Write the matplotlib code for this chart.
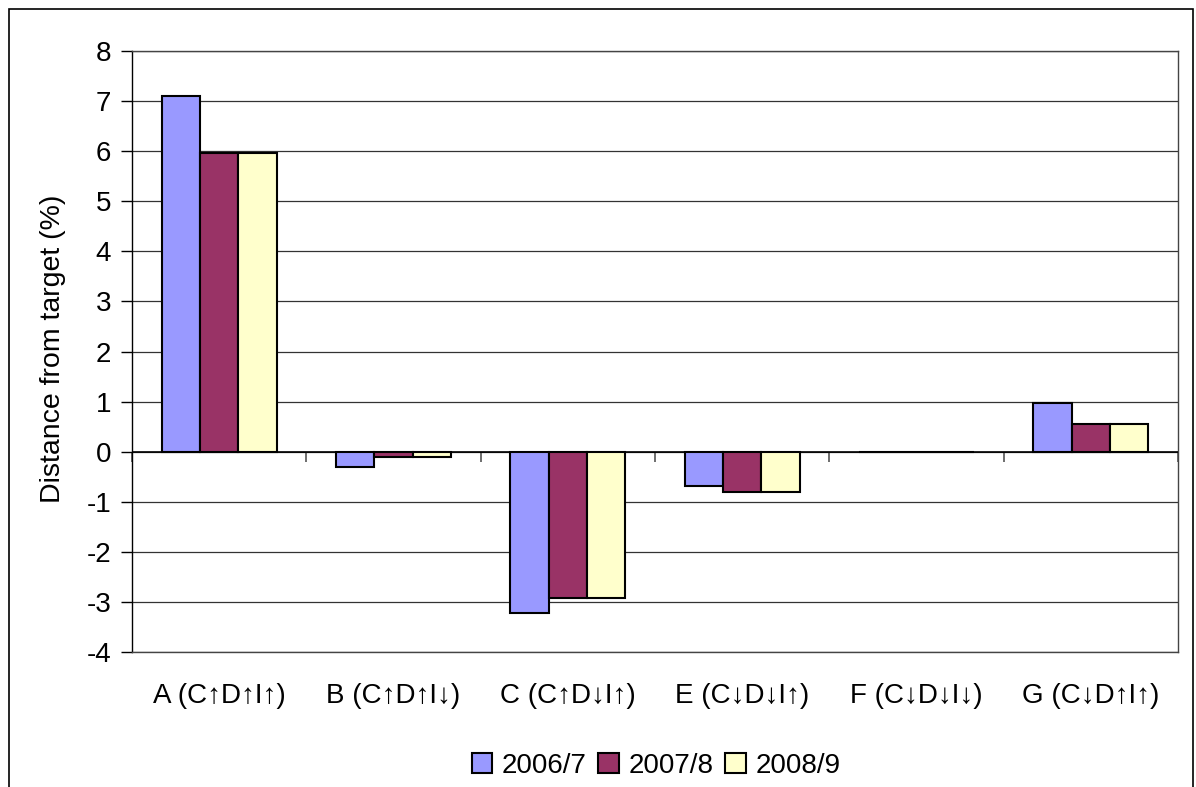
import matplotlib
matplotlib.use("Agg")
import matplotlib.pyplot as plt
import numpy as np
from matplotlib.patches import Rectangle

categories = ["A (C↑D↑I↑)", "B (C↑D↑I↓)", "C (C↑D↓I↑)", "E (C↓D↓I↑)", "F (C↓D↓I↓)", "G (C↓D↑I↑)"]
series_names = ["2006/7", "2007/8", "2008/9"]
v2006 = [7.1, -0.3, -3.22, -0.69, 0.0, 0.98]
v2007 = [5.97, -0.1, -2.92, -0.81, 0.0, 0.55]
v2008 = [5.97, -0.1, -2.92, -0.81, 0.0, 0.55]
colors = ["#9999FF", "#993366", "#FFFFCC"]

plt.rcParams['font.family'] = ['Liberation Sans', 'DejaVu Sans']
plt.rcParams['axes.unicode_minus'] = False

fig = plt.figure(figsize=(11.96, 7.87), dpi=100)
ax = fig.add_axes([132/1196, 1-652/787, (1178-132)/1196, (652-51)/787])

x = np.arange(len(categories))
w = 0.22
for i, (vals, name, c) in enumerate(zip([v2006, v2007, v2008], series_names, colors)):
    ax.bar(x + (i-1)*w, vals, w, color=c, edgecolor='black', linewidth=1.5, label=name, zorder=3)

ax.set_xlim(-0.5, len(categories)-0.5)
ax.set_ylim(-4, 8)
ax.set_yticks(range(-4, 9))
ax.yaxis.grid(True, color='#333333', linewidth=0.9, zorder=0)
ax.axhline(0, color='black', linewidth=1.2, zorder=4)
ax.tick_params(axis='y', labelsize=20, length=8, width=1, direction='out', pad=7)
ax.set_xticks(x)
ax.set_xticklabels(categories, fontsize=20)
ax.tick_params(axis='x', length=0, pad=22)
for s in ax.spines.values():
    s.set_color('#444444')
    s.set_linewidth(1.0)
ax.spines['left'].set_color('black')

sec = ax.secondary_xaxis(4/12)
sec.set_xticks(np.arange(len(categories)+1) - 0.5)
sec.set_xticklabels([])
sec.tick_params(length=7, width=1.2, color='#555555', direction='out')
sec.spines['bottom'].set_visible(False)

ax.set_ylabel("Distance from target (%)", fontsize=20.5)
ax.yaxis.set_label_coords((66-132)/1046, 0.505)

leg = ax.legend(loc='center', bbox_to_anchor=(656/1196, 1-766/787), bbox_transform=fig.transFigure,
                ncol=3, frameon=False, fontsize=20, handlelength=0.75, handleheight=0.75,
                handletextpad=0.35, columnspacing=0.4)

fig.patches.append(Rectangle((9/1196, -0.1), (1193-9)/1196, 0.1 + 1-9/787, transform=fig.transFigure,
                             fill=False, edgecolor='black', linewidth=1.2))

fig.savefig("out.png", dpi=100)
